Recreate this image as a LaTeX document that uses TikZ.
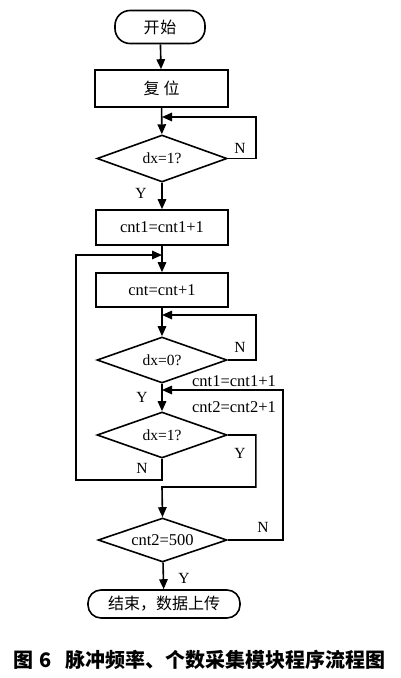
\documentclass[tikz,border=0pt]{standalone}
\usepackage{fontspec}
\setmainfont{Liberation Serif}
\newfontfamily\cjk{Noto Sans CJK SC}
\usetikzlibrary{shapes.geometric,arrows.meta}
\tikzset{
  base/.style={draw=black, line width=1.6pt, inner sep=0pt, font=\fontsize{15.5}{18}\selectfont},
  term/.style={base, rounded corners=15pt},
  proc/.style={base, rectangle},
  deci/.style={base, diamond, aspect=2.7},
  conn/.style={line width=1.6pt},
  arr/.style={conn, -{Triangle[length=10pt,width=8.5pt]}},
  lbl/.style={font=\fontsize{15.5}{18}\selectfont, inner sep=0pt},
  cn/.style={font=\fontsize{16}{18}\selectfont\cjk}
}
\begin{document}
\begin{tikzpicture}[x=1pt,y=-1pt]
\useasboundingbox (0,0) rectangle (400,678);
% nodes
\node[term, minimum width=90, minimum height=33, cn] (start) at (160,27) {开\hspace{1pt}始};
\node[proc, minimum width=133, minimum height=37, cn] (reset) at (161.5,88.5) {复\hspace{4pt}位};
\node[deci, minimum width=130, minimum height=47] (d1) at (162,158.5) {dx=1?};
\node[proc, minimum width=132, minimum height=35, font=\fontsize{16.5}{18}\selectfont] (c1) at (162,227.5) {cnt1=cnt1+1};
\node[proc, minimum width=132, minimum height=34, font=\fontsize{16.5}{18}\selectfont] (c0) at (162,290) {cnt=cnt+1};
\node[deci, minimum width=130, minimum height=46] (d2) at (162,360) {dx=0?};
\node[deci, minimum width=130, minimum height=46] (d3) at (162,435) {dx=1?};
\node[deci, minimum width=129, minimum height=44, font=\fontsize{16.5}{18}\selectfont] (d4) at (162.5,540) {cnt2=500};
\node[term, minimum width=152, minimum height=28, rounded corners=13pt, cn] (fin) at (164,604) {结束，数据上传};
% merge coordinates
\coordinate (m1) at (162,117);
\coordinate (m2) at (162,255);
\coordinate (m3) at (162,315);
\coordinate (m4) at (162,390);
\coordinate (m5) at (162,487);
\coordinate (m6) at (162,480);
% connectors
\draw[arr] (start) -- (reset);
\draw[arr] (reset) -- (d1);
\draw[arr] (d1.east) -- ++(28,0) |- (m1);
\draw[arr] (d1) -- (c1);
\draw[arr] (c1) -- (c0);
\draw[arr] (d3.south) -- (m6) -- ++(-86,0) |- (m2);
\draw[arr] (c0) -- (d2);
\draw[arr] (d2.east) -- ++(28,0) |- (m3);
\draw[arr] (d2) -- (d3);
\draw[arr] (d4.east) -- ++(55,0) |- (m4);
\draw[arr] (d3.east) -- ++(28,0) |- (m5) -- (d4.north);
\draw[arr] (d4) -- (fin);
% labels
\node[lbl] (n1) at (240,148) {N};
\node[lbl] (y1) at (141,193) {Y};
\node[lbl] (n2) at (240,347) {N};
\node[lbl] (y2) at (142,397) {Y};
\node[lbl] (y3) at (240,453) {Y};
\node[lbl] (n3) at (142,468) {N};
\node[lbl] (n4) at (263,527) {N};
\node[lbl] (y4) at (184,578) {Y};
\node[lbl, font=\fontsize{16.5}{18}\selectfont] (l1) at (234,381) {cnt1=cnt1+1};
\node[lbl, font=\fontsize{16.5}{18}\selectfont] (l2) at (234,407) {cnt2=cnt2+1};
% caption
\node[anchor=west, inner sep=0pt, font=\fontsize{20}{22}\selectfont\cjk\bfseries] (cap) at (13,660) {图\hspace{6pt}6\hspace{14pt}脉冲频率、个数采集模块程序流程图};
\end{tikzpicture}
\end{document}
